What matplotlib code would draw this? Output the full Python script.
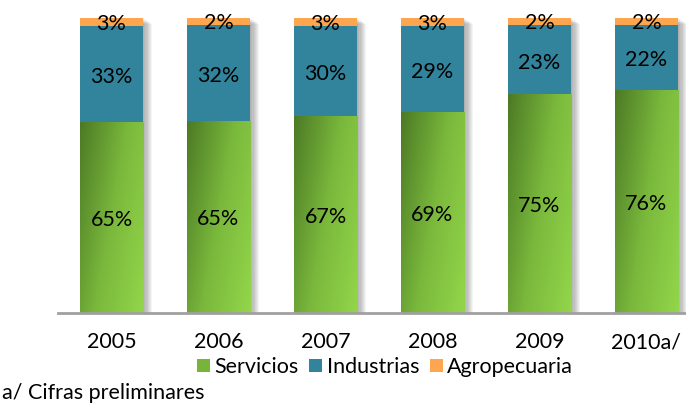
import numpy as np
import matplotlib
matplotlib.use("Agg")
import matplotlib.pyplot as plt
from matplotlib.patches import Rectangle, Patch
from matplotlib.colors import LinearSegmentedColormap

years = ["2005", "2006", "2007", "2008", "2009", "2010a/"]
servicios = [64.8, 65.1, 66.8, 68.1, 74.2, 75.6]
industrias = [32.5, 32.5, 30.5, 29.2, 23.4, 22.0]
agropecuaria = [2.7, 2.4, 2.7, 2.7, 2.4, 2.4]
lbl_serv = ["65%", "65%", "67%", "69%", "75%", "76%"]
lbl_ind = ["33%", "32%", "30%", "29%", "23%", "22%"]
lbl_agr = ["3%", "2%", "3%", "3%", "2%", "2%"]

plt.rcParams['font.family'] = ['Lato', 'DejaVu Sans']
fig = plt.figure(figsize=(6.86, 4.07), dpi=100)
ax = fig.add_axes([58/686, 1-313/407, 642/686, 295/407])

x = np.arange(len(years))
w = 0.59
blue = "#31849B"
orange = "#FDA64F"
green_cmap = LinearSegmentedColormap.from_list("g", ["#4C7A25", "#7AB83C", "#93D64A"])

serv = np.array(servicios); ind = np.array(industrias); agr = np.array(agropecuaria)
tops = serv + ind + agr

# shadows
for i in range(len(x)):
    for k in range(1, 9):
        ax.add_patch(Rectangle((x[i] - w/2 + 0.011*k, 0), w, tops[i] - 0.25*k,
                               facecolor="black", alpha=0.045, edgecolor="none", zorder=1))

bars_g = ax.bar(x, serv, w, color="none", edgecolor="none", zorder=3)
ax.bar(x, ind, w, bottom=serv, color=blue, edgecolor="none", zorder=3)
ax.bar(x, agr, w, bottom=serv + ind, color=orange, edgecolor="none", zorder=3)

xx, yy = np.meshgrid(np.linspace(0, 1, 60), np.linspace(0, 1, 200))
grad = 0.65 * xx + 0.35 * yy  # yy=0 at top (origin upper)
for b in bars_g:
    x0, y0 = b.get_x(), b.get_y()
    im = ax.imshow(grad, cmap=green_cmap, extent=[x0, x0 + b.get_width(), y0, y0 + b.get_height()],
                   origin="upper", aspect="auto", zorder=2.5, vmin=0, vmax=1)
    im.set_clip_path(b)

fs = 15.5
for i in range(len(x)):
    ax.text(x[i], serv[i]/2 - 0.8, lbl_serv[i], ha="center", va="center", fontsize=fs, zorder=5)
    ax.text(x[i], serv[i] + ind[i]/2 - 1.0, lbl_ind[i], ha="center", va="center", fontsize=fs, zorder=5)
    ax.text(x[i], serv[i] + ind[i] + agr[i]/2 - 0.6, lbl_agr[i], ha="center", va="center", fontsize=fs, zorder=5)

ax.set_xlim(-0.5, len(x) - 0.5)
ax.set_ylim(0, 100)
for s in ["top", "right", "left"]:
    ax.spines[s].set_visible(False)
ax.spines["bottom"].set_color("#A0A0A0")
ax.spines["bottom"].set_linewidth(2)
ax.set_yticks([])
ax.set_xticks(x)
ax.set_xticklabels(years, fontsize=fs)
ax.tick_params(axis="x", length=0, pad=14)

handles = [Patch(facecolor="#78B43A", label="Servicios"),
           Patch(facecolor=blue, label="Industrias"),
           Patch(facecolor=orange, label="Agropecuaria")]
fig.legend(handles=handles, loc="center", bbox_to_anchor=(385/686, 1-367/407), ncol=3,
           frameon=False, fontsize=fs, handlelength=0.6, handleheight=0.6,
           handletextpad=0.2, columnspacing=0.5, borderpad=0)
fig.text(2/686, 1-393/407, "a/ Cifras preliminares", fontsize=fs, va="center", ha="left")

fig.savefig("out.png", dpi=100)
